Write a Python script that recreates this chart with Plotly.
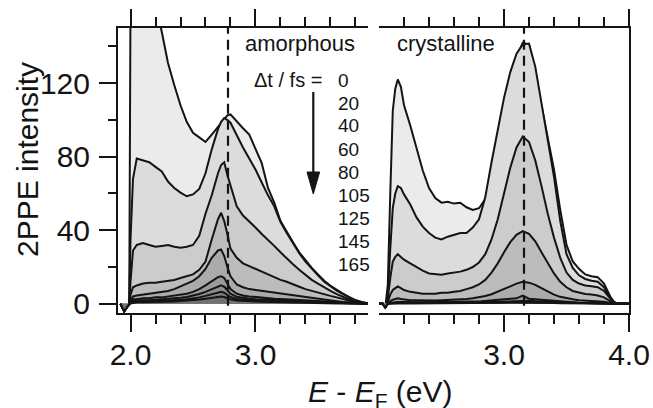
import plotly.graph_objects as go

# ---------------- data ----------------
DELAYS = ["0", "20", "40", "60", "80", "105", "125", "145", "165"]
FILLS = ["#ebebeb", "#dcdcdc", "#cccccc", "#bcbcbc", "#ababab",
         "#9b9b9b", "#8d8d8d", "#7f7f7f", "#727272"]

# amorphous (left panel) energies, eV
XL = [1.92, 1.95, 1.97, 1.99, 2.00, 2.02, 2.05, 2.10, 2.15, 2.20, 2.25, 2.30, 2.35,
      2.40, 2.45, 2.50, 2.55, 2.60, 2.65, 2.70, 2.725, 2.75, 2.775, 2.80, 2.85, 2.90,
      2.95, 3.00, 3.05, 3.10, 3.15, 3.20, 3.25, 3.30, 3.35, 3.40, 3.45, 3.50, 3.55,
      3.60, 3.65, 3.70, 3.75, 3.80, 3.85, 3.90]
A0 = [0, -4, -2, 0, 165, 185, 192, 186, 176, 163, 148, 131, 119, 108, 99, 93, 90.5, 88,
      92, 96, 98.5, 100.5, 102.5, 103, 99, 95.5, 92, 84, 76.5, 63, 55, 45, 39, 33.5, 28,
      23.5, 19.5, 16, 12.5, 9.8, 7.5, 5.5, 3.6, 2.0, 1.0, 0.3]
A20 = [0, -4, -2, 0, 35, 68, 79, 78, 77, 74.5, 72, 66.5, 63, 60.5, 58.5, 59.5, 62.5, 71,
       84, 95, 99, 101, 100, 98.5, 91.5, 85, 79, 73, 66, 59, 53, 44.5, 38.5, 33, 27.5,
       23, 19, 15.5, 12, 9.5, 7.2, 5.3, 3.4, 1.9, 0.9, 0.2]
A40 = [0, -4, -2, 0, 12, 29, 32, 33, 32, 31, 31.5, 32, 31, 30.5, 31, 32, 37, 49, 59, 71,
       75.5, 77, 70, 64, 53, 48, 45, 41.5, 38, 35, 31.5, 28, 24.5, 21.5, 18.5, 15.5, 13,
       11, 8.8, 7, 5.3, 3.8, 2.5, 1.3, 0.6, 0.1]
A60 = [0, -4, -2, 0, 5, 9, 10, 11, 11.5, 11.5, 12, 12.5, 13, 14, 15, 16, 18.5, 23, 35, 46,
       49.5, 45, 38, 30, 25, 22, 20.5, 19, 17.5, 16, 14.5, 13, 12, 10.5, 9.3, 8, 7, 6, 5,
       4.3, 3.5, 2.5, 1.6, 0.9, 0.4, 0]
A80 = [0, -4, -2, 0, 2, 4, 4.5, 5, 5.5, 6, 6.5, 7, 8, 9.5, 11, 12.5, 15, 19, 25, 29,
       29.5, 26, 20, 15, 10.5, 9, 8, 7.5, 7, 6.5, 6, 5.5, 5, 4.5, 4, 3.5, 3, 2.6, 2.2,
       1.8, 1.4, 1, 0.7, 0.4, 0.2, 0]
A105 = [0, -4, -2, 0, 1, 2.5, 2.5, 3, 3, 3.5, 3.5, 4, 4.5, 5, 5.5, 6.5, 8, 10, 12.5, 14.5,
        15, 14, 11, 8, 5.5, 4.5, 4, 3.6, 3.3, 3, 2.8, 2.6, 2.4, 2.2, 2, 1.8, 1.6, 1.4,
        1.2, 1, 0.8, 0.6, 0.4, 0.3, 0.1, 0]
A125 = [0, -4, -2, 0, 0.5, 1.5, 1.8, 2, 2, 2.2, 2.4, 2.6, 3, 3.3, 3.7, 4.3, 5.3, 6.5, 8,
        9.5, 10, 9.3, 7.5, 5.5, 3.8, 3.2, 2.8, 2.5, 2.3, 2.1, 1.9, 1.8, 1.6, 1.5, 1.3,
        1.2, 1.1, 0.9, 0.8, 0.7, 0.6, 0.4, 0.3, 0.2, 0.1, 0]
A145 = [0, -4, -2, 0, 0.3, 1, 1.2, 1.3, 1.4, 1.5, 1.6, 1.8, 2, 2.2, 2.5, 2.9, 3.5, 4.3,
        5.3, 6.2, 6.5, 6, 5, 3.7, 2.6, 2.2, 1.9, 1.7, 1.5, 1.4, 1.3, 1.2, 1.1, 1, 0.9,
        0.8, 0.7, 0.6, 0.5, 0.5, 0.4, 0.3, 0.2, 0.1, 0.1, 0]
A165 = [0, -4, -2, 0, 0.2, 0.6, 0.8, 0.9, 0.9, 1, 1.1, 1.2, 1.3, 1.5, 1.7, 2, 2.3, 2.8,
        3.3, 3.8, 4, 3.7, 3.1, 2.4, 1.8, 1.5, 1.3, 1.2, 1.1, 1, 0.9, 0.8, 0.7, 0.7, 0.6,
        0.5, 0.5, 0.4, 0.3, 0.3, 0.2, 0.2, 0.1, 0.1, 0, 0]

# crystalline (right panel) energies, eV
XR = [2.00, 2.03, 2.05, 2.07, 2.09, 2.11, 2.13, 2.15, 2.175, 2.20, 2.25, 2.30, 2.35,
      2.40, 2.45, 2.50, 2.55, 2.60, 2.65, 2.70, 2.75, 2.80, 2.85, 2.90, 2.95, 3.00,
      3.05, 3.10, 3.15, 3.20, 3.25, 3.30, 3.35, 3.40, 3.45, 3.50, 3.55, 3.60, 3.65,
      3.70, 3.75, 3.80, 3.85, 3.875, 3.90, 3.95, 4.00]
C0 = [0, 0, -2, 10, 60, 105, 117, 122, 118, 108, 97, 84, 72.5, 63, 57.5, 55, 55.5, 54.5,
      55, 52.5, 51, 52, 57, 71, 91, 106, 120, 134, 142, 141, 125, 107, 91, 73, 51, 32,
      23, 19, 16, 15, 14.5, 11, 4, 1.5, 0.3, 0, 0]
C20 = [0, 0, -2, 5, 30, 52, 60, 64, 63, 59.5, 54, 47, 42, 38.5, 36, 35, 36.5, 37.5, 38.5,
       38.5, 41.5, 46, 58, 77, 95, 112, 126, 136, 141, 141.5, 129, 110, 89, 69, 45, 27,
       19.5, 15.5, 13.5, 12.5, 12, 9, 3, 1, 0.2, 0, 0]
C40 = [0, 0, -2, 3, 14, 23, 25.5, 27, 25.5, 24, 22, 20, 18, 16.5, 16, 15.8, 16.5, 17,
       17.5, 18.5, 20, 22.5, 27, 35, 46, 60, 74, 85, 91, 88, 78, 64, 49, 36, 25, 17, 13,
       11, 10, 9.5, 9, 7, 2.5, 0.8, 0.2, 0, 0]
C60 = [0, 0, -2, 1, 5, 7.5, 8.5, 9.5, 8.5, 7.5, 6.5, 6, 5.5, 5.5, 5.5, 6, 6, 6.5, 7, 8,
       9, 10.5, 13, 17, 22, 28, 33.5, 37.5, 39.5, 38, 34, 28, 22, 16.5, 12, 9, 7, 6, 5.3,
       5, 4.5, 3.5, 1.2, 0.4, 0, 0, 0]
C80 = [0, 0, -2, 0, 1.5, 2.2, 2.5, 3, 2.6, 2.3, 2, 1.9, 1.8, 1.8, 1.8, 1.9, 2, 2.1, 2.3,
       2.6, 3, 3.5, 4.2, 5.2, 6.5, 8, 9.5, 11, 12, 11.5, 10.3, 8.5, 6.7, 5, 3.8, 3, 2.5,
       2, 1.8, 1.6, 1.5, 1.1, 0.4, 0.1, 0, 0, 0]
C105 = [0, 0, -2, 0, 0.5, 0.8, 1, 1, 1, 0.9, 0.8, 0.8, 0.8, 0.8, 0.8, 0.9, 0.9, 1, 1,
        1.1, 1.2, 1.3, 1.5, 1.8, 2.1, 2.4, 2.7, 3, 4.5, 2.8, 2.5, 2.1, 1.7, 1.4, 1.1,
        0.9, 0.7, 0.6, 0.5, 0.5, 0.4, 0.3, 0.1, 0, 0, 0, 0]
C125 = [0, 0, -2, 0, 0.3, 0.5, 0.6, 0.6, 0.6, 0.6, 0.5, 0.5, 0.5, 0.5, 0.5, 0.5, 0.6,
        0.6, 0.6, 0.7, 0.7, 0.8, 0.9, 1, 1.1, 1.3, 1.4, 1.6, 1.7, 1.6, 1.4, 1.2, 1, 0.8,
        0.7, 0.6, 0.5, 0.4, 0.4, 0.3, 0.3, 0.2, 0.1, 0, 0, 0, 0]
C145 = [0, 0, -2, 0, 0.2, 0.4, 0.4, 0.4, 0.4, 0.4, 0.4, 0.3, 0.3, 0.3, 0.3, 0.4, 0.4,
        0.4, 0.4, 0.5, 0.5, 0.6, 0.6, 0.7, 0.8, 0.9, 1, 1.1, 1.2, 1.1, 1, 0.9, 0.7, 0.6,
        0.5, 0.4, 0.4, 0.3, 0.3, 0.2, 0.2, 0.1, 0.1, 0, 0, 0, 0]
C165 = [0, 0, -2, 0, 0.1, 0.2, 0.3, 0.3, 0.3, 0.3, 0.2, 0.2, 0.2, 0.2, 0.2, 0.2, 0.3,
        0.3, 0.3, 0.3, 0.3, 0.4, 0.4, 0.5, 0.5, 0.6, 0.7, 0.7, 0.8, 0.7, 0.7, 0.6, 0.5,
        0.4, 0.3, 0.3, 0.2, 0.2, 0.2, 0.1, 0.1, 0.1, 0, 0, 0, 0, 0]

AMORPHOUS = [A0, A20, A40, A60, A80, A105, A125, A145, A165]
CRYSTALLINE = [C0, C20, C40, C60, C80, C105, C125, C145, C165]
PEAK_AMORPHOUS = 2.78
PEAK_CRYSTALLINE = 3.16
Y_RANGE = [-5, 150]

XT_LEFT = [2.0, 3.0]
XT_LEFT_TEXT = ["2.0", "3.0"]
XT_RIGHT = [3.0, 4.0]
XT_RIGHT_TEXT = ["3.0", "4.0"]
XMINOR_LEFT = [2.2, 2.4, 2.6, 2.8, 3.2, 3.4, 3.6, 3.8]
XMINOR_RIGHT = [2.2, 2.4, 2.6, 2.8, 3.2, 3.4, 3.6, 3.8]
YT = [0, 40, 80, 120]
YMINOR = [20, 60, 100, 140]

for s in AMORPHOUS:
    assert len(s) == len(XL), len(s)
for s in CRYSTALLINE:
    assert len(s) == len(XR), len(s)

# ---------------- figure ----------------
FONT = "Liberation Sans, Arial, sans-serif"
INK = "#141414"
fig = go.Figure()

for ys, fc in zip(AMORPHOUS, FILLS):
    fig.add_trace(go.Scatter(x=XL, y=ys, mode="lines", fill="tozeroy", fillcolor=fc,
                             line=dict(color=INK, width=2), xaxis="x", yaxis="y",
                             hoverinfo="skip"))
for ys, fc in zip(CRYSTALLINE, FILLS):
    fig.add_trace(go.Scatter(x=XR, y=ys, mode="lines", fill="tozeroy", fillcolor=fc,
                             line=dict(color=INK, width=2), xaxis="x2", yaxis="y2",
                             hoverinfo="skip"))

fig.add_trace(go.Scatter(x=[PEAK_AMORPHOUS, PEAK_AMORPHOUS], y=[-1, Y_RANGE[1]],
                         mode="lines", line=dict(color=INK, width=2.2, dash="10px,6px"),
                         xaxis="x", yaxis="y", hoverinfo="skip"))
fig.add_trace(go.Scatter(x=[PEAK_CRYSTALLINE, PEAK_CRYSTALLINE], y=[-1, Y_RANGE[1]],
                         mode="lines", line=dict(color=INK, width=2.2, dash="10px,6px"),
                         xaxis="x2", yaxis="y2", hoverinfo="skip"))

tickfont = dict(family=FONT, size=30, color=INK)
common_x = dict(ticks="outside", ticklen=17, tickwidth=2, tickcolor=INK,
                showline=True, linewidth=2, linecolor=INK, mirror="ticks",
                showgrid=False, zeroline=False, tickfont=tickfont, automargin=False,
                ticklabelstandoff=-3)

fig.update_layout(
    width=653, height=408,
    margin=dict(l=118, r=24, t=28, b=95, autoexpand=False),
    plot_bgcolor="white", paper_bgcolor="white",
    showlegend=False,
    xaxis=dict(domain=[0, 0.4892], range=[1.9, 3.9], anchor="y",
               tickmode="array", tickvals=XT_LEFT, ticktext=XT_LEFT_TEXT,
               minor=dict(tickmode="array", tickvals=XMINOR_LEFT, ticks="outside",
                          ticklen=9, tickwidth=2, tickcolor=INK),
               **common_x),
    xaxis2=dict(domain=[0.5108, 1], range=[2.0, 4.0], anchor="y2",
                tickmode="array", tickvals=XT_RIGHT, ticktext=XT_RIGHT_TEXT,
                minor=dict(tickmode="array", tickvals=XMINOR_RIGHT, ticks="outside",
                           ticklen=9, tickwidth=2, tickcolor=INK),
                **common_x),
    yaxis=dict(domain=[0, 1], range=Y_RANGE, anchor="x",
               tickmode="array", tickvals=YT, ticks="outside", ticklen=17, tickwidth=2,
               tickcolor=INK, showline=True, linewidth=2, linecolor=INK, mirror=False,
               minor=dict(tickmode="array", tickvals=YMINOR, ticks="outside",
                          ticklen=8, tickwidth=2, tickcolor=INK),
               showgrid=False, zeroline=False, tickfont=tickfont, automargin=False,
               ticklabelstandoff=3),
    yaxis2=dict(domain=[0, 1], range=Y_RANGE, anchor="x2", side="right",
                showline=True, linewidth=2, linecolor=INK, ticks="",
                showticklabels=False, showgrid=False, zeroline=False, automargin=False),
)

W, H, L, T, B = 653, 408, 118, 28, 95
PW, PH = W - L - 24, H - T - B


def px(xp):
    return (xp - L) / PW


def py(yp):
    return (H - B - yp) / PH


ann = []
ann.append(dict(text="2PPE intensity", textangle=-90, x=px(27), y=py(160),
                xref="paper", yref="paper", xanchor="center", yanchor="middle",
                showarrow=False, font=dict(family=FONT, size=30, color=INK)))
ann.append(dict(text="<i>E</i> - <i>E</i><sub>F</sub> (eV)", x=px(380), y=py(393),
                xref="paper", yref="paper", xanchor="center", yanchor="middle",
                showarrow=False, font=dict(family=FONT, size=30, color=INK)))
ann.append(dict(text="amorphous", x=px(357), y=py(43), xref="paper", yref="paper",
                xanchor="right", yanchor="middle", showarrow=False,
                font=dict(family=FONT, size=22, color=INK)))
ann.append(dict(text="crystalline", x=px(395), y=py(43), xref="paper", yref="paper",
                xanchor="left", yanchor="middle", showarrow=False,
                font=dict(family=FONT, size=22, color=INK)))
ann.append(dict(text="Δt / fs =", x=px(324), y=py(80), xref="paper", yref="paper",
                xanchor="right", yanchor="middle", showarrow=False,
                font=dict(family=FONT, size=20, color=INK)))
for i, d in enumerate(DELAYS):
    ann.append(dict(text=d, x=px(336), y=py(80 + 23 * i), xref="paper", yref="paper",
                    xanchor="left", yanchor="middle", showarrow=False,
                    font=dict(family=FONT, size=19, color=INK)))
fig.update_layout(annotations=ann)

# time arrow (shaft + filled head), placed in paper units
ax_x = px(313.3)
shapes = [
    dict(type="line", xref="paper", yref="paper", x0=ax_x, x1=ax_x,
         y0=py(92), y1=py(176), line=dict(color=INK, width=2.2)),
    dict(type="path", xref="paper", yref="paper",
         path=f"M {px(307.0)} {py(172)} L {px(319.6)} {py(172)} L {ax_x} {py(194)} Z",
         fillcolor=INK, line=dict(color=INK, width=1)),
]
fig.update_layout(shapes=shapes)

fig.write_html("out.html", config={"displayModeBar": False},
               post_script="document.body.style.margin='0px';")
